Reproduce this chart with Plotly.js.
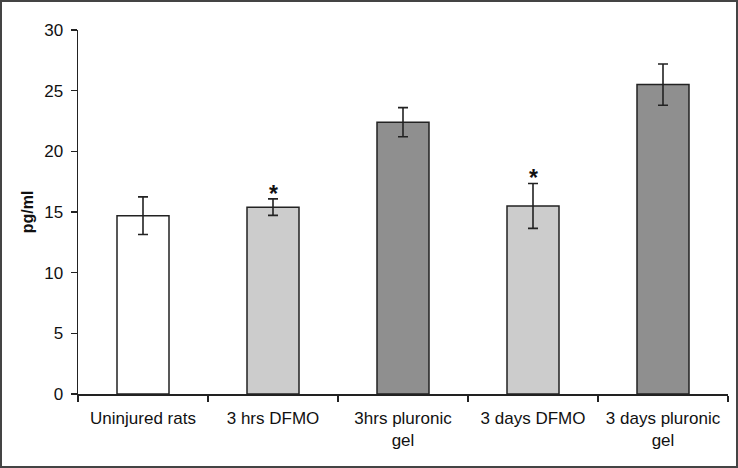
<!DOCTYPE html>
<html>
<head>
<meta charset="utf-8">
<script src="https://cdn.plot.ly/plotly-3.0.1.min.js"></script>
<style>
html,body{margin:0;padding:0;background:#fff;}
#wrap{position:relative;width:738px;height:468px;}
#chart{position:absolute;left:0;top:0;width:738px;height:468px;}
#frame{position:absolute;left:0;top:0;width:738px;height:468px;box-sizing:border-box;border:2px solid #444;pointer-events:none;}
</style>
</head>
<body>
<div id="wrap"><div id="chart"></div><div id="frame"></div></div>
<script>
const categories = ["Uninjured rats", "3 hrs DFMO", "3hrs pluronic<br>gel", "3 days DFMO", "3 days pluronic<br>gel"];
const values = [14.7, 15.4, 22.4, 15.5, 25.5];
const errors = [1.55, 0.68, 1.2, 1.85, 1.7];
const barColors = ["#ffffff", "#cccccc", "#8f8f8f", "#cccccc", "#8f8f8f"];
const significant = [false, true, false, true, false];
const yTicks = [0, 5, 10, 15, 20, 25, 30];

const font = "Liberation Sans, Arial, sans-serif";

const trace = {
  type: "bar",
  x: categories,
  y: values,
  width: 0.4,
  marker: {color: barColors, line: {color: "#222", width: 1.5}},
  error_y: {type: "data", array: errors, visible: true, color: "#222", thickness: 1.6, width: 5},
  hoverinfo: "none"
};

const annotations = [];
categories.forEach((c, i) => {
  if (significant[i]) {
    annotations.push({
      x: c, y: values[i] + errors[i], xref: "x", yref: "y",
      text: "<b>*</b>", showarrow: false, yanchor: "bottom", yshift: -10,
      font: {family: font, size: 23, color: "#111"}
    });
  }
});

const layout = {
  width: 738, height: 468,
  margin: {l: 78, r: 10, t: 30, b: 74, pad: 0},
  paper_bgcolor: "#ffffff", plot_bgcolor: "#ffffff",
  showlegend: false,
  font: {family: font, size: 17, color: "#111"},
  xaxis: {
    type: "category",
    showline: true, linecolor: "#222", linewidth: 1.5,
    ticks: "outside", tickson: "boundaries", ticklen: 6, tickwidth: 1.5, tickcolor: "#222",
    ticklabelstandoff: 8,
    showgrid: false, zeroline: false,
    tickfont: {family: font, size: 17, color: "#111"}
  },
  yaxis: {
    range: [0, 30], tickvals: yTicks, ticktext: yTicks.map(String),
    showline: true, linecolor: "#222", linewidth: 1.5,
    ticks: "outside", ticklen: 6, tickwidth: 1.5, tickcolor: "#222",
    ticklabelstandoff: 4,
    showgrid: false, zeroline: false,
    tickfont: {family: font, size: 17, color: "#111"},
    title: {text: "<b>pg/ml</b>", font: {family: font, size: 16, color: "#111"}, standoff: 6}
  },
  annotations: annotations
};

Plotly.newPlot("chart", [trace], layout, {displayModeBar: false, staticPlot: true});
</script>
</body>
</html>
